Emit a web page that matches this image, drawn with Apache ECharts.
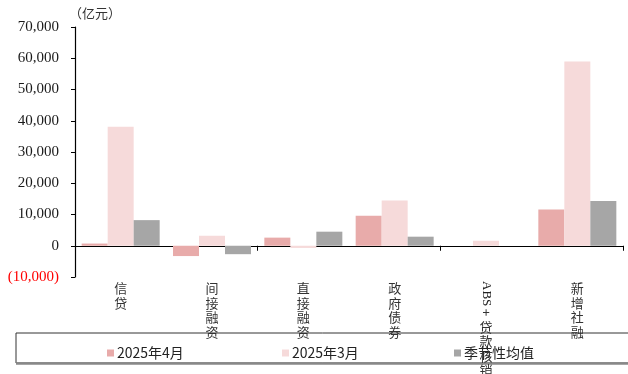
<!DOCTYPE html>
<html>
<head>
<meta charset="utf-8">
<script src="https://cdn.jsdelivr.net/npm/echarts@6/dist/echarts.min.js"></script>
<style>
  html, body { margin: 0; padding: 0; background: #fff; }
  #chart { width: 628px; height: 374px; }
</style>
</head>
<body>
<div id="chart"></div>
<script>
// 社融分项（亿元）
const categories = ['信贷', '间接融资', '直接融资', '政府债券', 'ABS+贷款核销', '新增社融'];
const seriesNames = ['2025年4月', '2025年3月', '季节性均值'];
const apr2025 = [700, -3300, 2600, 9600, null, 11600];
const mar2025 = [38100, 3200, -700, 14500, 1600, 59000];
const seasonalAvg = [8200, -2700, 4500, 2900, null, 14300];
const yTicks = [-10000, 0, 10000, 20000, 30000, 40000, 50000, 60000, 70000];

const colors = ['#E8ABAA', '#F6DADA', '#A6A6A6'];
const serifFont = '"Liberation Serif", "DejaVu Serif", serif';
const cjkFont = '"Noto Sans CJK SC", "Noto Sans", sans-serif';

const chart = echarts.init(document.getElementById('chart'));

function fmt(v) {
  const s = Math.abs(v).toLocaleString('en-US');
  return v < 0 ? '{neg|(' + s + ')}' : s;
}

function legendAt(left, idx) {
  return {
    left: left, top: 341,
    itemWidth: 7, itemHeight: 7, itemGap: 0,
    icon: 'rect',
    data: [seriesNames[idx]],
    textStyle: { fontFamily: cjkFont, fontSize: 14, color: '#222', padding: [0, 0, 0, -2] },
    selectedMode: false
  };
}

chart.setOption({
  animation: false,
  backgroundColor: '#fff',
  color: colors,
  grid: { left: 75, right: 5, top: 27, bottom: 97, containLabel: false },
  legend: [legendAt(102, 0), legendAt(277, 1), legendAt(449, 2)],
  xAxis: {
    type: 'category',
    data: categories,
    axisLine: { onZero: true, lineStyle: { color: '#000', width: 1.2 } },
    axisTick: { show: true, length: 5, alignWithLabel: false, lineStyle: { color: '#000' } },
    axisLabel: { show: false },
    splitLine: { show: false }
  },
  yAxis: {
    type: 'value',
    min: yTicks[0],
    max: yTicks[yTicks.length - 1],
    interval: 10000,
    name: '（亿元）',
    nameLocation: 'end',
    nameGap: 7,
    nameTextStyle: { fontFamily: cjkFont, fontSize: 13, color: '#333', align: 'left', padding: [0, 0, 0, -6] },
    axisLine: { show: true, lineStyle: { color: '#000', width: 1.2 } },
    axisTick: { show: true, length: 4, lineStyle: { color: '#000' } },
    axisLabel: {
      fontFamily: serifFont, fontSize: 15, color: '#1a1a1a', margin: 16,
      formatter: fmt,
      rich: { neg: { fontFamily: serifFont, fontSize: 15, color: '#ff0000' } }
    },
    splitLine: { show: false }
  },
  series: [
    { name: seriesNames[0], type: 'bar', data: apr2025, barWidth: 26, barGap: '0%' },
    { name: seriesNames[1], type: 'bar', data: mar2025, barWidth: 26, barGap: '0%' },
    { name: seriesNames[2], type: 'bar', data: seasonalAvg, barWidth: 26, barGap: '0%' }
  ]
});

// 竖排分类标签与图例边框
const labelTop = 281;
const pitch = 14.5;
const graphics = [
  { type: 'rect', shape: { x: 16, y: 333, width: 620, height: 30 },
    style: { fill: 'none', stroke: '#333', lineWidth: 1 }, z: 1 },
  { type: 'line', shape: { x1: 16, y1: 363.5, x2: 628, y2: 363.5 },
    style: { stroke: '#888', lineWidth: 2.5 }, z: 1 }
];
categories.forEach(function (cat) {
  const cx = chart.convertToPixel({ xAxisIndex: 0 }, cat);
  let y = labelTop;
  let text = cat;
  const m = cat.match(/^([A-Za-z]+)(.*)$/);
  if (m) {
    graphics.push({
      type: 'text', x: cx, y: y, rotation: -Math.PI / 2, z: 5,
      style: { text: m[1], fontFamily: serifFont, fontSize: 13, fill: '#222',
               align: 'left', verticalAlign: 'middle' }
    });
    y += 24;
    text = m[2];
  }
  graphics.push({
    type: 'text', x: cx, y: y, z: 5,
    style: { text: text.split('').join('\n'), fontFamily: cjkFont, fontSize: 13,
             lineHeight: pitch, fill: '#333', align: 'center', verticalAlign: 'top' }
  });
});
chart.setOption({ graphic: graphics });
</script>
</body>
</html>
